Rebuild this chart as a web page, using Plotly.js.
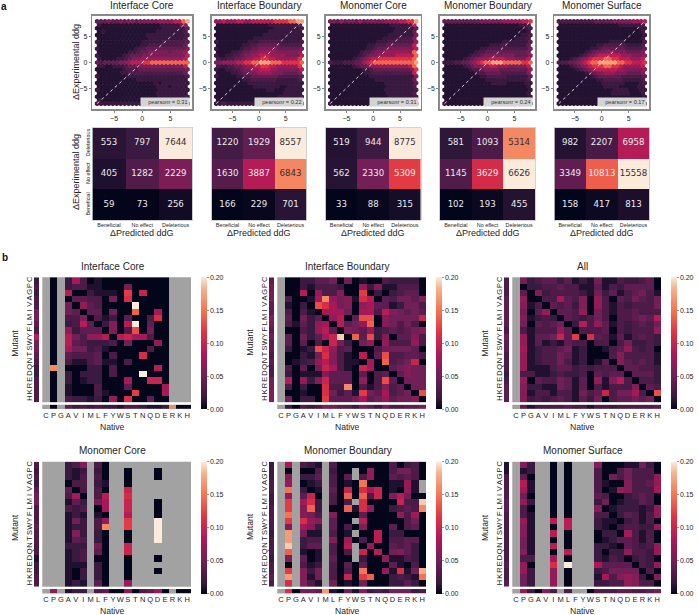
<!DOCTYPE html>
<html><head><meta charset="utf-8">
<script src="https://cdn.plot.ly/plotly-3.0.1.min.js"></script>
<style>html,body{margin:0;padding:0;background:#fff}#c{width:698px;height:615px}</style>
</head><body><div id="c"></div>
<script>
const _ = null;
const residues = ["C","P","G","A","V","I","M","L","F","Y","W","S","T","N","Q","D","E","R","K","H"];
const effectLabels = ["Beneficial","No effect","Deleterious"];
const panelNames = ["Interface Core","Interface Boundary","Monomer Core","Monomer Boundary","Monomer Surface"];
const pearson = ["pearsonr = 0.31","pearsonr = 0.22","pearsonr = 0.31","pearsonr = 0.24","pearsonr = 0.17"];

// confusion counts, rows bottom to top: Beneficial, No effect, Deleterious
const countsIC = [[59,73,256],[405,1282,2229],[553,797,7644]];
const countsIB = [[166,229,701],[1630,3887,6843],[1220,1929,8557]];
const countsMC = [[33,88,315],[562,2330,5309],[519,944,8775]];
const countsMB = [[102,193,455],[1145,3629,6626],[581,1093,5314]];
const countsMS = [[158,417,813],[3349,10813,15558],[982,2207,6958]];

// hexbin density levels, top row to bottom, one digit per hexagon
const hexIC = ["333433434434444455556689","10000000000000001111135","000000000000000001111113","01000000000000011111112","000000000000011111111112","00000000000001111111112","100000000000111112222223","00000000000112222222223","100000000012233333333334","00000000112334444434445","100000012333444444444446","10000112344555555555556","323333445666778888888888","11001112333444444444446","000000012223333333333334","00000011222222222222223","100000001111111111111112","00000000001111111111111","000000000000000101111111","00000000000000011101111","100000000000000011111111","00000000000000011111111","000000000000000011111112","10000000000000000111111","211111111111111111111223"];
const hexIB = ["556555665566666677778899","00000000000000111111113","000000000000000011111112","00000000000000111111111","000000000000011111111111","00000000001111111111111","100000000111222222111112","00000001122333333222222","100000012233444443333334","00001123344555554444445","100112234455666555544446","21122334556677665555557","445555667788999888777778","21122334556677665555557","100112234455666554444446","00001123344555544433334","100000112233333332222223","00000001122222221111112","000000000111111111111111","00000000001111111001111","000000000000001100011111","00000000000000000011111","000000000000000001111112","00000000000000000011112","112111111111111122222334"];
const hexMC = ["443534435344444555566779","00000000000000001111126","000000000000000000111113","00000000000000000111113","000000000000000011111114","00000000000000111122224","000000000000011122222225","00000000001122233333336","000000000011233344444446","00000000122344555555558","000000001234455555666668","00000012345667777777778","211122233567888888888889","00000012334555555555568","000000000112333333333347","00000000011222222222226","000000000001111111111114","00000000000011111111113","000000000000000111111113","00000000000000011111112","000000000000000111111112","00000000000000011111112","000000000000000011111112","00000000000000001111112","100000000000000011111123"];
const hexMB = ["333333333344444455555667","00000000000000000000112","000000000000000000000012","00000000000000000000001","000000000000000000000112","00000000000000000001112","000000000000000011111113","00000000000011122111113","000000000011222222222224","00000000122333333333334","000000012234444444433335","00000123455566665554446","111223345678899988888778","00000123445566555444446","000000012234444333333335","00000000122333322222224","000000000011222221111113","00000000000111111111112","000000000000011110000011","00000000000000000000001","000000000000000000000001","00000000000000000000001","000000000000000000000001","00000000000000000000001","100000000000000000000112"];
const hexMS = ["222222222233333444445556","00000000000000001111112","000000000000000000000011","00000000000000000000001","000000000000000000000001","00000000000000000000001","000000000000001111000002","00000000001122222211112","000000000112333333222223","00000001234445544433334","000000123456666665554445","00012345677788776665556","222334567889999988776667","00012345677788776555556","000001234566666655444445","00000001234455544433334","000000000123333332222223","00000000001122222111112","000000000000111111000012","00000000000011110000011","000000000000000111100011","00000000000000111110001","000000000000000000000001","00000000000000000000001","000000000000000000000002"];
const hexShade = [0.055,0.095,0.15,0.21,0.28,0.36,0.46,0.57,0.71,0.87];

// substitution heatmaps in hundredths, rows and columns in residue order
const heatIC = [
[_,0,_,2,8,3,0,1,0,0,0,0,0,0,0,0,0,_,_,_],[_,0,_,2,3,3,1,1,0,0,0,5,0,0,0,0,0,_,_,_],
[_,0,_,9,0,0,2,1,1,1,0,12,0,10,0,0,0,_,_,_],[_,0,_,0,4,4,3,3,0,5,0,11,0,0,0,0,0,_,_,_],
[_,0,_,5,0,7,4,3,0,0,0,0,20,0,0,0,0,_,_,_],[_,0,_,5,4,0,4,4,0,5,0,0,14,0,0,8,0,_,_,_],
[_,0,_,3,3,6,0,3,1,2,0,4,0,0,3,11,0,_,_,_],[_,0,_,2,3,9,4,0,2,6,0,9,20,0,4,0,0,_,_,_],
[_,0,_,7,2,4,4,4,0,6,0,3,13,0,5,0,0,_,_,_],[_,0,_,9,5,3,7,7,9,0,9,10,8,8,3,0,0,_,_,_],
[_,0,_,9,4,3,2,2,2,3,0,5,0,0,0,7,0,_,_,_],[_,0,_,8,5,5,2,3,1,0,0,0,0,0,3,0,0,_,_,_],
[_,0,_,4,3,3,3,4,0,3,0,0,0,11,0,0,0,_,_,_],[_,0,_,3,1,1,3,4,1,1,0,3,0,0,0,0,0,_,_,_],
[_,16,_,0,0,0,2,2,0,3,0,0,0,0,0,9,0,_,_,_],[_,0,_,2,0,2,2,2,0,3,0,0,0,20,0,0,0,_,_,_],
[_,0,_,2,0,1,2,2,0,0,0,8,0,0,10,10,0,_,_,_],[_,0,_,1,0,0,0,3,0,0,0,4,0,0,0,0,8,_,_,_],
[_,0,_,1,0,0,0,3,1,0,0,0,12,0,0,0,8,_,_,_],[_,0,_,3,2,2,1,2,0,7,0,11,0,0,4,0,0,_,_,_]];
const sideIC = [2,3,2,3,3,5,5,4,3,9,5,5,4,3,2,2,3,3,3,3];
const baseIC = [_,0,_,4,2,3,2,3,2,2,1,3,3,2,1,1,2,16,0,0];

const heatIB = [
[_,0,0,2,2,4,4,5,0,5,0,1,0,0,3,2,2,2,2,0],[_,0,0,2,1,3,3,3,2,0,0,7,2,6,1,1,3,3,3,0],
[_,0,0,9,0,7,3,3,6,0,0,12,0,2,0,2,3,4,4,0],[_,3,0,0,1,8,16,7,5,6,1,11,9,0,4,3,5,5,4,6],
[_,1,0,2,0,13,11,8,5,6,0,7,8,4,4,1,2,5,5,3],[_,3,0,3,1,0,8,8,8,5,0,8,8,3,9,6,5,4,5,4],
[_,4,0,5,2,4,0,7,9,0,4,13,13,0,6,5,5,5,5,10],[_,3,1,4,2,7,8,0,9,4,5,7,14,0,6,5,3,5,3,0],
[_,0,0,3,2,7,9,4,0,6,5,4,7,2,3,4,3,4,5,6],[_,4,0,5,2,4,8,10,19,0,14,4,13,2,6,0,4,4,6,3],
[_,4,0,4,0,3,0,10,5,2,0,5,7,0,7,3,3,3,7,3],[_,2,0,1,2,13,10,7,3,4,0,0,0,3,5,5,5,5,4,0],
[_,0,0,2,1,5,11,6,3,1,0,9,0,4,13,3,3,4,4,3],[_,0,1,2,3,7,9,6,3,1,1,0,8,0,14,3,4,5,10,0],
[_,3,0,4,0,5,10,8,3,1,0,10,8,0,0,4,5,6,5,5],[_,2,0,1,1,1,6,4,4,4,0,4,0,3,4,0,4,6,5,5],
[_,9,0,7,2,6,10,4,4,4,0,7,0,3,13,4,0,5,5,5],[_,3,0,2,0,0,11,3,3,16,0,3,1,3,6,3,4,0,5,5],
[_,0,0,1,0,0,11,5,2,4,1,12,5,4,8,3,4,5,0,13],[_,5,0,2,2,0,12,4,4,4,5,8,4,5,7,4,5,5,6,0]];
const sideIB = [4,5,5,5,4,4,6,5,4,5,4,4,3,4,3,3,5,5,6,6];
const baseIB = [_,2,0,3,2,3,6,5,4,4,2,5,4,2,5,3,3,4,4,5];

const heatAll = [
[_,5,2,3,4,4,2,4,1,2,1,5,1,1,3,2,2,3,4,0],[_,0,2,2,3,3,4,3,3,1,1,4,1,3,2,4,4,4,4,0],
[_,4,0,6,2,3,3,3,3,2,1,5,2,4,1,3,4,5,3,1],[_,7,0,0,3,3,8,4,3,6,0,7,3,0,4,3,5,4,3,5],
[_,6,1,3,0,4,3,4,2,6,0,7,3,1,3,2,3,3,3,5],[_,5,0,4,7,0,4,4,3,7,0,5,3,1,3,3,4,3,3,3],
[_,6,1,2,3,2,0,4,3,2,3,5,3,0,3,3,4,5,4,9],[_,5,0,4,3,4,5,0,2,9,3,7,4,1,3,2,3,4,3,5],
[_,3,1,3,3,3,7,4,0,3,3,3,4,0,3,2,3,3,3,7],[_,7,1,4,4,5,10,4,12,0,11,4,3,1,4,1,3,4,3,2],
[_,7,1,4,1,2,1,4,3,3,0,3,3,0,3,5,2,2,3,2],[_,8,1,2,3,3,4,5,1,2,0,0,1,3,4,7,3,2,3,0],
[_,7,1,2,3,3,5,4,1,2,0,0,0,3,6,3,3,3,3,1],[_,7,1,2,3,3,5,3,1,2,0,1,4,0,6,4,3,4,3,1],
[_,7,1,1,1,3,4,4,2,3,2,3,3,3,0,4,4,3,3,2],[_,3,3,1,1,2,3,2,2,3,0,4,3,4,4,0,4,4,4,2],
[_,7,0,4,3,3,5,4,1,4,0,7,1,6,9,3,0,3,3,2],[_,6,2,2,1,1,5,4,1,4,0,3,1,3,3,3,6,0,4,3],
[_,6,1,3,3,1,3,3,1,5,3,4,10,3,5,5,8,3,0,13],[_,6,2,3,2,3,4,3,1,4,2,5,0,3,4,4,5,4,5,0]];
const sideAll = [3,3,3,4,4,4,4,4,3,5,4,4,3,3,3,2,3,4,4,4];
const baseAll = [_,4,1,3,3,3,3,4,3,3,1,3,3,2,3,3,3,3,3,4];

const heatMC = [
[_,_,_,2,3,6,_,3,0,_,_,_,_,_,_,_,_,_,_,_],[_,_,_,2,1,2,_,2,0,_,_,0,_,_,_,0,_,_,_,_],
[_,_,_,2,1,3,_,3,0,_,_,0,_,_,_,0,_,_,_,_],[_,_,_,0,3,3,_,2,1,_,_,0,_,_,_,_,_,_,_,_],
[_,_,_,4,0,3,_,3,0,_,_,10,_,_,_,_,_,_,_,_],[_,_,_,3,8,0,_,3,9,_,_,11,_,_,_,_,_,_,_,_],
[_,_,_,1,4,2,_,5,8,_,_,10,_,_,_,0,_,_,_,_],[_,_,_,3,2,3,_,0,8,_,_,10,_,_,_,0,_,_,_,_],
[_,_,_,1,2,1,_,1,0,_,_,9,_,_,_,0,_,_,_,_],[_,_,_,1,5,2,_,3,7,_,_,12,_,_,_,20,_,_,_,_],
[_,_,_,1,2,2,_,3,16,_,_,12,_,_,_,20,_,_,_,_],[_,_,_,1,6,2,_,2,0,_,_,0,_,_,_,20,_,_,_,_],
[_,_,_,1,4,3,_,2,0,_,_,0,_,_,_,20,_,_,_,_],[_,_,_,2,2,2,_,5,0,_,_,10,_,_,_,_,_,_,_,_],
[_,_,_,1,2,3,_,4,0,_,_,10,_,_,_,_,_,_,_,_],[_,_,_,1,2,3,_,0,0,_,_,0,_,_,_,0,_,_,_,_],
[_,_,_,1,1,1,_,2,0,_,_,0,_,_,_,_,_,_,_,_],[_,_,_,1,0,2,_,2,0,_,_,0,_,_,_,0,_,_,_,_],
[_,_,_,1,0,2,_,2,0,_,_,0,_,_,_,_,_,_,_,_],[_,_,_,1,2,1,_,4,0,_,_,7,_,_,_,_,_,_,_,_]];
const sideMC = [3,2,3,2,4,5,5,3,3,3,4,3,3,3,3,1,2,2,3,3];
const baseMC = [_,6,_,1,2,2,_,3,4,0,0,6,0,3,4,7,0,_,0,0];

const heatMB = [
[_,8,_,3,2,1,_,3,0,0,0,0,0,0,0,3,0,2,3,0],[_,0,_,0,0,3,_,2,0,0,_,0,7,0,0,3,5,5,3,0],
[_,6,_,2,2,4,_,3,0,4,_,3,7,0,0,4,3,4,3,0],[_,7,_,0,1,2,_,3,0,1,0,15,0,0,0,1,1,7,1,_],
[_,15,_,2,0,1,_,4,0,10,0,11,8,10,0,1,0,7,1,_],[_,7,_,4,10,0,_,3,0,14,0,14,3,10,0,6,9,5,0,0],
[_,12,_,8,11,2,_,3,0,3,_,11,0,0,0,0,10,3,3,19],[_,12,_,6,14,2,_,0,0,14,1,11,7,0,0,2,3,4,3,16],
[_,15,_,6,5,3,_,6,0,0,0,4,0,0,0,0,7,3,8,0],[_,12,_,11,7,6,_,4,0,0,_,9,0,0,0,0,0,3,5,0],
[_,6,_,8,6,2,_,4,0,3,0,6,0,0,0,4,0,3,4,0],[_,17,_,5,1,1,_,3,0,1,_,0,0,9,0,2,2,0,0,0],
[_,17,_,2,3,3,_,6,0,8,0,3,0,9,0,3,3,4,4,0],[_,19,_,2,4,4,_,3,0,9,_,0,7,0,0,4,3,4,2,0],
[_,14,_,1,0,1,_,3,0,3,_,10,0,9,0,5,6,4,2,0],[_,6,_,4,0,1,_,4,0,0,_,2,0,0,7,1,1,3,2,0],
[_,0,_,3,1,2,_,3,0,4,0,4,0,0,0,4,1,0,3,0],[_,12,_,6,2,5,_,3,0,3,0,15,0,0,7,1,11,1,5,18],
[_,17,_,6,1,5,_,3,0,10,0,12,14,0,0,2,3,2,1,15],[_,11,_,6,3,1,_,5,0,1,0,5,0,0,0,2,2,4,2,0]];
const sideMB = [2,2,2,3,3,2,2,3,3,3,3,2,3,3,3,2,3,3,4,3];
const baseMB = [_,11,0,5,5,4,17,1,0,5,1,6,2,3,2,5,5,5,2,3];

const heatMS = [
[_,6,2,_,_,0,_,0,_,_,_,6,0,0,0,1,1,5,2,0],[_,1,2,_,_,0,_,0,_,_,_,3,0,0,3,5,3,3,3,0],
[_,4,0,_,_,0,_,0,_,_,_,3,0,5,3,5,3,3,3,7],[_,9,1,_,_,0,_,0,_,_,_,3,1,0,0,6,3,3,4,7],
[_,8,1,_,_,0,_,0,_,_,_,3,0,1,7,6,3,3,3,8],[_,5,0,_,_,0,_,0,_,_,_,4,3,0,0,2,3,4,3,0],
[_,7,2,_,_,0,_,0,_,_,_,2,5,0,1,2,2,4,3,0],[_,3,0,_,_,0,_,0,_,_,_,6,0,1,2,2,2,1,2,7],
[_,3,1,_,_,0,_,0,_,_,_,3,3,0,2,4,3,1,3,7],[_,7,1,_,_,9,_,9,_,_,_,2,1,1,0,2,3,1,3,0],
[_,6,1,_,_,0,_,9,_,_,_,2,1,0,2,3,3,2,2,7],[_,6,1,_,_,9,_,0,_,_,_,0,2,2,0,8,3,1,3,0],
[_,5,1,_,_,0,_,0,_,_,_,0,1,2,4,4,3,1,3,0],[_,5,1,_,_,9,_,0,_,_,_,2,2,1,0,4,3,2,3,7],
[_,6,1,_,_,0,_,9,_,_,_,2,0,2,2,7,3,3,2,7],[_,3,3,_,_,8,_,0,_,_,_,2,1,3,2,0,2,3,2,0],
[_,7,0,_,_,11,_,20,_,_,_,8,4,4,4,4,0,3,2,7],[_,7,2,_,_,7,_,0,_,_,_,2,3,5,5,5,5,0,3,0],
[_,5,2,_,_,7,_,0,_,_,_,1,8,3,6,7,6,2,0,6],[_,5,2,_,_,7,_,0,_,_,_,2,2,3,3,7,6,3,3,0]];
const sideMS = [1,1,3,3,3,3,4,4,3,3,3,3,3,3,3,3,4,3,3,4];
const baseMS = [_,7,2,0,6,3,_,3,_,_,0,3,3,3,4,4,3,3,4,5];

const rocket = [[0,"#03051a"],[0.083,"#35193e"],[0.25,"#701f57"],[0.4167,"#ad1759"],[0.583,"#e13342"],[0.75,"#f37651"],[0.9167,"#f6b48f"],[1,"#faebdd"]];
const W=698,H=615, sans='"Liberation Sans",Arial,sans-serif', ink='#262626';
const PX=p=>p/W, PY=p=>1-p/H;
const layout={width:W,height:H,margin:{l:0,r:0,t:0,b:0,pad:0},paper_bgcolor:'#fff',plot_bgcolor:'rgba(0,0,0,0)',showlegend:false,shapes:[],annotations:[],font:{family:sans,color:ink}};
const traces=[];
let axn=0;
function axes(x0,x1,y0,y1,xo,yo){
  axn++; const s=axn===1?'':axn;
  layout['xaxis'+s]=Object.assign({domain:[PX(x0),PX(x1)],anchor:'y'+s,showgrid:false,zeroline:false,showticklabels:false,ticks:'',fixedrange:true,tickfont:{size:7.5,color:ink,family:sans}},xo);
  layout['yaxis'+s]=Object.assign({domain:[PY(y1),PY(y0)],anchor:'x'+s,showgrid:false,zeroline:false,showticklabels:false,ticks:'',fixedrange:true,tickfont:{size:7.5,color:ink,family:sans}},yo);
  return {xaxis:'x'+s,yaxis:'y'+s};
}
function note(text,x,y,o){layout.annotations.push(Object.assign({text,x:PX(x),y:PY(y),xref:'paper',yref:'paper',showarrow:false,xanchor:'center',yanchor:'middle',font:{size:9,color:ink,family:sans}},o||{}));}
function grey(x0,x1,y0,y1){layout.shapes.push({type:'rect',xref:'paper',yref:'paper',x0:PX(x0),x1:PX(x1),y0:PY(y0),y1:PY(y1),fillcolor:'#a2a2a2',line:{width:0},layer:'below'});}

// ---- panel a ----
const hexGrids=[hexIC,hexIB,hexMC,hexMB,hexMS];
const countGrids=[countsIC,countsIB,countsMC,countsMB,countsMS];
const aX=[[92.3,192.3],[211.7,306.3],[325.7,420.7],[440,535],[554.3,649.3]];
panelNames.forEach((name,i)=>{
  const [x0,x1]=aX[i], c=(x0+x1)/2;
  note(name,c,5.5,{font:{size:10,color:ink,family:sans}});
  const frame={showline:true,mirror:true,linewidth:1.6,linecolor:'#8a8a8a',showticklabels:true,ticks:'outside',ticklen:2,tickwidth:0.7,tickcolor:'#555',tickvals:[-5,0,5],tickfont:{size:7,color:ink,family:sans}};
  const a=axes(x0,x1,16,109,Object.assign({},frame,{range:[-8.85,8.85]}),Object.assign({},frame,{range:[-9.05,9.05]}));
  const pts=[];
  const rows=hexGrids[i], nr=rows.length;
  rows.forEach((row,r)=>{
    const off=r%2?0.5:0, yv=8-r*16/(nr-1);
    row.split('').forEach((d,k)=>pts.push({x:-8+(k+off)*16/23,y:yv,z:hexShade[+d]}));
  });
  pts.sort((p,q)=>p.z-q.z);
  traces.push(Object.assign({type:'scatter',mode:'markers',x:pts.map(p=>p.x),y:pts.map(p=>p.y),hoverinfo:'skip',
    marker:{symbol:'hexagon',size:5.2,color:pts.map(p=>p.z),colorscale:rocket,cmin:0,cmax:1,line:{width:0}}},a));
  traces.push(Object.assign({type:'scatter',mode:'lines',x:[-8,8],y:[-8,8],hoverinfo:'skip',line:{color:'#fff',width:0.8,dash:'dot'}},a));
  layout.annotations.push({text:'&nbsp;&nbsp;&nbsp;&nbsp;'+pearson[i],xref:a.xaxis+' domain',yref:a.yaxis+' domain',x:0.977,y:0.025,xanchor:'right',yanchor:'bottom',showarrow:false,
    bgcolor:'#d4d4d4',borderpad:1,font:{size:5.6,color:'#333',family:sans}});

  const grid=countGrids[i], flat=grid.flat(), lo=Math.min(...flat), hi=Math.max(...flat);
  const b=axes(x0,x1,128,220,
    {type:'category',categoryorder:'array',categoryarray:effectLabels,showticklabels:true,tickfont:{size:5.4,color:ink,family:sans},showline:true,mirror:true,linecolor:'#b5b5b5',linewidth:0.6,ticklen:0},
    {type:'category',categoryorder:'array',categoryarray:effectLabels,showticklabels:i===0,tickfont:{size:5.4,color:ink,family:sans},tickangle:-90,showline:true,mirror:true,linecolor:'#b5b5b5',linewidth:0.6,ticklen:0});
  traces.push(Object.assign({type:'heatmap',x:effectLabels,y:effectLabels,z:grid,colorscale:rocket,zmin:lo,zmax:hi,showscale:false,hoverinfo:'skip'},b));
  const tx=[],ty=[],tt=[],tc=[];
  grid.forEach((row,r)=>row.forEach((v,k)=>{tx.push(effectLabels[k]);ty.push(effectLabels[r]);tt.push(String(v));tc.push((v-lo)/(hi-lo)>0.75?'#3a2b34':'#ececec');}));
  traces.push(Object.assign({type:'scatter',mode:'text',x:tx,y:ty,text:tt,textposition:'middle center',textfont:{size:8.6,color:tc,family:'"DejaVu Sans",sans-serif'},hoverinfo:'skip'},b));
  note('ΔPredicted ddG',c,232.5);
});
note('ΔExperimental ddg',76,62,{textangle:-90});
note('ΔExperimental ddg',76,172,{textangle:-90});
note('<b>a</b>',4,6,{font:{size:10,color:'#111',family:sans}});
note('<b>b</b>',5,258,{font:{size:10,color:'#111',family:sans}});

// ---- panel b ----
const pct=m=>m.map(r=>r.map(v=>v===null?null:v/100));
const hundredths=v=>v===null?null:v/100;
const bPanels=[
 {t:'Interface Core',h:heatIC,s:sideIC,b:baseIC,l:42.3,top:277.3},
 {t:'Interface Boundary',h:heatIB,s:sideIB,b:baseIB,l:277.3,top:277.3},
 {t:'All',h:heatAll,s:sideAll,b:baseAll,l:512.3,top:277.3},
 {t:'Monomer Core',h:heatMC,s:sideMC,b:baseMC,l:42.3,top:461.7},
 {t:'Monomer Boundary',h:heatMB,s:sideMB,b:baseMB,l:277.3,top:461.7},
 {t:'Monomer Surface',h:heatMS,s:sideMS,b:baseMS,l:512.3,top:461.7}];
const cat={type:'category',categoryorder:'array'};
bPanels.forEach(p=>{
  const r=p.l+148.7, bot=p.top+125;
  grey(p.l,r,p.top,bot);
  grey(p.l,r,bot+2.4,bot+6.8);
  const m=axes(p.l,r,p.top,bot,Object.assign({},cat,{categoryarray:residues}),Object.assign({},cat,{categoryarray:residues,autorange:'reversed'}));
  traces.push(Object.assign({type:'heatmap',x:residues,y:residues,z:pct(p.h),colorscale:rocket,zmin:0,zmax:0.2,hoverinfo:'skip',
    colorbar:{x:PX(r+10.3),xanchor:'left',y:PY(p.top),yanchor:'top',len:131.7/H,lenmode:'fraction',thickness:6,thicknessmode:'pixels',xpad:0,ypad:0,outlinewidth:0,
      tickvals:[0,0.05,0.1,0.15,0.2],tickformat:'.2f',ticks:'outside',ticklen:2,tickwidth:0.6,tickcolor:'#555',tickfont:{size:7,color:ink,family:sans}}},m));
  const sb=axes(p.l-8.3,p.l-3,p.top,bot,{type:'category'},Object.assign({},cat,{categoryarray:residues,autorange:'reversed',showticklabels:true,tickangle:-90,tickmode:'array',tickvals:residues,ticktext:residues}));
  traces.push(Object.assign({type:'heatmap',x:['m'],y:residues,z:p.s.map(v=>[hundredths(v)]),colorscale:rocket,zmin:0,zmax:0.2,showscale:false,hoverinfo:'skip'},sb));
  const bb=axes(p.l,r,bot+2.4,bot+6.8,Object.assign({},cat,{categoryarray:residues,showticklabels:true,tickangle:0,tickmode:'array',tickvals:residues,ticktext:residues}),{type:'category'});
  traces.push(Object.assign({type:'heatmap',x:residues,y:['n'],z:[p.b.map(hundredths)],colorscale:rocket,zmin:0,zmax:0.2,showscale:false,hoverinfo:'skip'},bb));
  note(p.t,p.l+70.5,p.top-11.3,{font:{size:10,color:ink,family:sans}});
  note('Native',p.l+70.5,bot+24.4,{font:{size:8.6,color:ink,family:sans}});
  note('Mutant',p.l-27.3,p.top+65.4,{textangle:-90,font:{size:8.6,color:ink,family:sans}});
});
Plotly.newPlot('c',traces,layout,{displayModeBar:false,staticPlot:true});
</script></body></html>
